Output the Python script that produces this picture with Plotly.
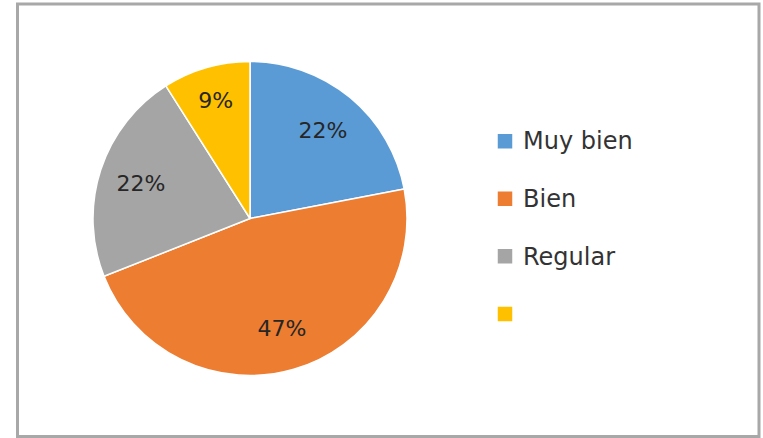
import plotly.graph_objects as go

categories = ["Muy bien", "Bien", "Regular", ""]
values = [22, 47, 22, 9]
colors = ["#5B9BD5", "#ED7D31", "#A5A5A5", "#FFC000"]

W, H = 763, 438
cx, cy, r = 250, 218.5, 157

legend_labels = [
    f"<span style='font-size:24px'>{c if c else chr(160)}</span><br> "
    for c in categories
]
domain = dict(x=[(cx - r) / W, (cx + r) / W], y=[1 - (cy + r) / H, 1 - (cy - r) / H])

fig = go.Figure()
# coloured slices + legend
fig.add_trace(
    go.Pie(
        labels=legend_labels,
        values=values,
        sort=False,
        direction="clockwise",
        rotation=0,
        marker=dict(colors=colors, line=dict(color="white", width=1.5)),
        textinfo="none",
        domain=domain,
        hoverinfo="label+percent",
    )
)
# percentage labels placed in an outer ring (like Excel's data labels)
fig.add_trace(
    go.Pie(
        labels=legend_labels,
        values=values,
        sort=False,
        direction="clockwise",
        rotation=0,
        hole=0.46,
        marker=dict(colors=["rgba(0,0,0,0)"] * len(values), line=dict(width=0)),
        textinfo="percent",
        textposition="inside",
        insidetextorientation="horizontal",
        textfont=dict(family="DejaVu Sans", size=22, color="#262626"),
        domain=domain,
        showlegend=False,
        hoverinfo="skip",
    )
)

fig.update_layout(
    width=W,
    height=H,
    margin=dict(l=0, r=0, t=0, b=0),
    paper_bgcolor="white",
    plot_bgcolor="white",
    showlegend=True,
    legend=dict(
        x=483 / W,
        xanchor="left",
        y=1 - 121 / H,
        yanchor="top",
        valign="top",
        font=dict(family="DejaVu Sans", size=21, color="#333333"),
        bgcolor="rgba(0,0,0,0)",
    ),
    shapes=[
        dict(
            type="rect", xref="paper", yref="paper",
            x0=17.5 / W, x1=759 / W, y0=1 - 436.5 / H, y1=1 - 4 / H,
            line=dict(color="#A8A8A8", width=3),
            fillcolor="rgba(0,0,0,0)",
        )
    ],
)

post = (
    "document.body.style.margin='0px';document.body.style.overflow='hidden';"
    "document.querySelectorAll('.legend .legendpoints path').forEach(function(p){"
    "p.setAttribute('d','M10,8V-8H-6V8Z');});"
)

fig.write_html(
    "out.html",
    config={"displayModeBar": False},
    post_script=post,
)
